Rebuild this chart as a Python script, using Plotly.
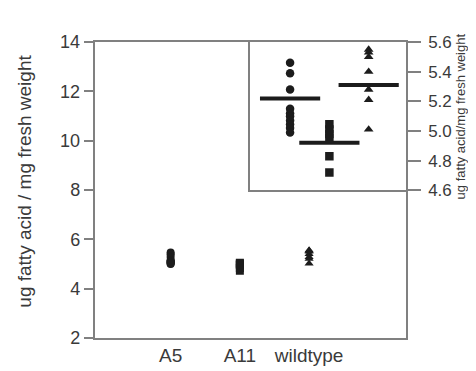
import plotly.graph_objects as go

W, H = 476, 371

categories = ["A5", "A11", "wildtype"]
a5_values = [5.46, 5.39, 5.28, 5.15, 5.12, 5.10, 5.07, 5.045, 5.02, 4.99]
a11_values = [5.045, 5.01, 4.98, 4.95, 4.83, 4.72]
wt_values = [5.55, 5.53, 5.50, 5.40, 5.28, 5.21, 5.01]
mean_values = [5.22, 4.92, 5.31]
main_ticks = [2, 4, 6, 8, 10, 12, 14]
inset_ticks = [4.6, 4.8, 5.0, 5.2, 5.4, 5.6]

FONT = "Arial, Liberation Sans, sans-serif"
TXT = "#3a3a3a"
AX = "#808080"
MK = "#1c1c1c"

def px_x(p):
    return p / W

def px_y(p):
    return (H - p) / H

groups = [(categories[0], a5_values, "circle"),
          (categories[1], a11_values, "square"),
          (categories[2], wt_values, "triangle-up")]

fig = go.Figure()

for cat, vals, sym in groups:
    fig.add_trace(go.Scatter(x=[cat] * len(vals), y=vals, mode="markers",
                             marker=dict(symbol=sym, size=8, color=MK),
                             xaxis="x", yaxis="y", showlegend=False))

for cat, vals, sym in groups:
    fig.add_trace(go.Scatter(x=[cat] * len(vals), y=vals, mode="markers",
                             marker=dict(symbol=sym, size=8.5, color=MK),
                             xaxis="x2", yaxis="y2", showlegend=False))

fig.add_trace(go.Scatter(x=categories, y=mean_values, mode="markers",
                         marker=dict(symbol="line-ew", size=43, color=MK,
                                     line=dict(width=4, color=MK)),
                         xaxis="x2", yaxis="y2", showlegend=False))

fig.update_layout(
    width=W, height=H,
    margin=dict(l=0, r=0, t=0, b=0),
    paper_bgcolor="white", plot_bgcolor="white",
    font=dict(family=FONT, color=TXT, size=18),
    xaxis=dict(domain=[px_x(86.5), px_x(398)], type="category",
               categoryorder="array", categoryarray=categories,
               range=[-1.1, 3.4], showgrid=False, zeroline=False,
               showline=True, linecolor=AX, linewidth=1.5, mirror=True,
               ticks="", tickfont=dict(size=19, color=TXT), anchor="y"),
    yaxis=dict(domain=[px_y(338), px_y(25.5)], range=[2, 14],
               tickvals=main_ticks, showgrid=False, zeroline=False,
               showline=True, linecolor=AX, linewidth=1.5, mirror=True,
               ticks="outside", ticklen=9, tickcolor=AX, tickwidth=1.5,
               tickfont=dict(size=18, color=TXT), anchor="x"),
    xaxis2=dict(domain=[px_x(242), px_x(398)], type="category",
                categoryorder="array", categoryarray=categories,
                range=[-1.02, 2.95], showgrid=False, zeroline=False,
                showline=True, linecolor=AX, linewidth=1.5, mirror=True,
                ticks="", showticklabels=False, anchor="y2"),
    yaxis2=dict(domain=[px_y(182), px_y(25.5)], range=[4.6, 5.6],
                tickvals=inset_ticks, tickformat=".1f", side="right",
                showgrid=False, zeroline=False,
                showline=True, linecolor=AX, linewidth=1.5, mirror=True,
                ticks="outside", ticklen=13, tickcolor=AX, tickwidth=1.5,
                ticklabelstandoff=4,
                tickfont=dict(size=17, color=TXT), anchor="x2"),
    annotations=[
        dict(text="ug fatty acid / mg fresh weight", textangle=-90,
             x=px_x(17), y=px_y(173), xref="paper", yref="paper",
             showarrow=False, font=dict(size=19, color=TXT),
             xanchor="center", yanchor="middle"),
        dict(text="ug fatty acid/mg fresh weight", textangle=-90,
             x=px_x(452), y=px_y(104), xref="paper", yref="paper",
             showarrow=False, font=dict(size=13, color=TXT),
             xanchor="center", yanchor="middle"),
    ],
)

fig.write_html("out.html")
